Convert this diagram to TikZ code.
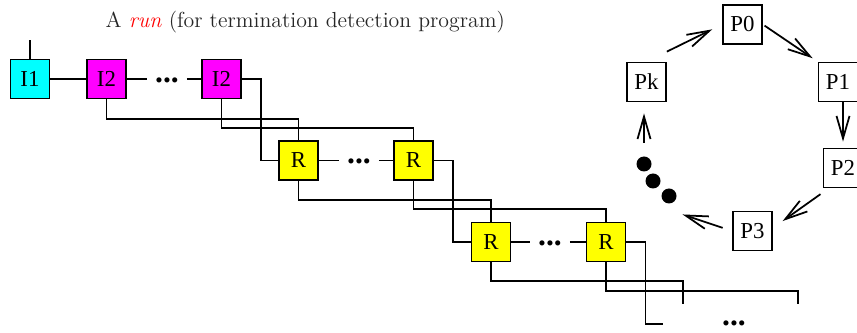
\documentclass[tikz,border=0pt]{standalone}
\usepackage{fontspec}
\newfontfamily\figfont{Liberation Serif}
\usetikzlibrary{arrows.meta}
\definecolor{figcyan}{RGB}{0,255,255}
\definecolor{figmagenta}{RGB}{255,0,255}
\definecolor{figyellow}{RGB}{255,255,0}

\begin{document}
\begin{tikzpicture}[x=0.02cm, y=-0.02cm, line width=1pt,
        box/.style={rectangle, draw, minimum size=0.78cm, inner sep=0pt, font=\figfont\fontsize{13}{15}\selectfont},
        init/.style={box, fill=figcyan},
        intr/.style={box, fill=figmagenta},
        rbox/.style={box, fill=figyellow},
        proc/.style={box, fill=white},
        gap/.style={inner xsep=4pt, inner ysep=0pt, font=\figfont\bfseries\fontsize{18}{18}\selectfont},
        blob/.style={circle, fill=black, minimum size=0.3cm, inner sep=0pt},
        arr/.style={-{Straight Barb[length=0.45cm, width=0.26cm]}}
    ]
        \useasboundingbox (0,0) rectangle (857,333);

        % Title
        \node[anchor=base west, text=black!85, font=\fontsize{12.4}{14}\selectfont] (title) at (99,28)
            {A \textcolor{red}{\textit{run}} (for termination detection program)};

        % Initial row
        \node[init] (I1) at (30,79) {I1};
        \node[intr] (I2a) at (106.5,79) {I2};
        \node[gap] (d1) at (167,80) {...};
        \node[intr] (I2b) at (221.5,79) {I2};

        % Second row
        \node[rbox] (R1) at (298.5,160.5) {R};
        \node[gap] (d2) at (359,161.5) {...};
        \node[rbox] (R2) at (413.5,160.5) {R};

        % Third row
        \node[rbox] (R3) at (491,242) {R};
        \node[gap] (d3) at (550,243) {...};
        \node[rbox] (R4) at (606,242) {R};

        % Loose ends
        \coordinate (e1) at (663,324);
        \coordinate (e2) at (683,304);
        \coordinate (e3) at (798,304);
        \node[gap] (d4) at (734,323) {...};

        % Connessioni
        \draw (I1.north) -- ++(0,-19);
        \draw (I1) -- (I2a);
        \draw (I2a.east) -- (I2a.east -| d1.west);
        \draw (I2b.west -| d1.east) -- (I2b.west);
        \draw (I2b.east) -- ++(19,0) |- (R1.west);
        \draw (I2a.south) -- ++(0,19.5) -| (R1.north);
        \draw (I2b.south) -- ++(0,29) -| (R2.north);

        \draw (R1.east) -- (R1.east -| d2.west);
        \draw (R2.west -| d2.east) -- (R2.west);
        \draw (R2.east) -- ++(19,0) |- (R3.west);
        \draw (R1.south) -- ++(0,19) -| (R3.north);
        \draw (R2.south) -- ++(0,28) -| (R4.north);

        \draw (R3.east) -- (R3.east -| d3.west);
        \draw (R4.west -| d3.east) -- (R4.west);
        \draw (R4.east) -- ++(19,0) |- (e1);
        \draw (R3.south) -- ++(0,19) -| (e2);
        \draw (R4.south) -- ++(0,29) -| (e3);

        % Ring of processes
        \node[proc] (P0) at (742.5,24.5) {P0};
        \node[proc] (P1) at (838,82) {P1};
        \node[proc] (P2) at (843,168) {P2};
        \node[proc] (P3) at (752.5,231) {P3};
        \node[proc] (Pk) at (646.5,82) {Pk};
        \node[blob] (c1) at (644,164) {};
        \node[blob] (c2) at (653,181) {};
        \node[blob] (c3) at (669,196) {};

        \draw[arr, shorten >=0.22cm] ([yshift=0.2cm]Pk.north east) -- (P0.west);
        \draw[arr, shorten <=0.04cm, shorten >=0.12cm] (P0.east) -- (P1.north west);
        \draw[arr, shorten >=0.12cm] (P1.south -| P2.north) -- (P2.north);
        \draw[arr, shorten <=0.2cm, shorten >=0.24cm] ([xshift=0.12cm]P2.south west) -- ([yshift=0.06cm]P3.east);
        \draw[arr, shorten <=0.2cm, shorten >=0.16cm] (P3.west) -- ([yshift=-0.2cm]c3.south east);
        \draw[arr, shorten <=0.26cm, shorten >=0.22cm] (c1.north) -- (c1.north |- Pk.south);
    \end{tikzpicture}
\end{document}
